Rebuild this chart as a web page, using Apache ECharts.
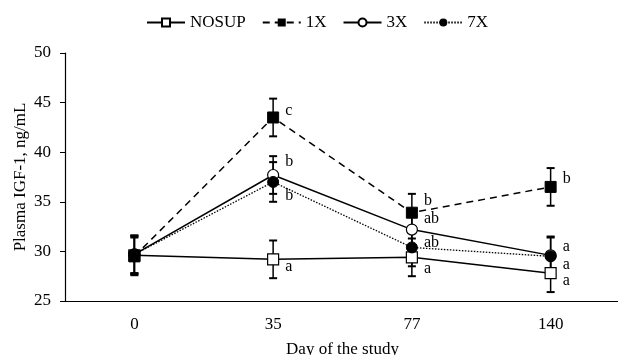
<!DOCTYPE html>
<html>
<head>
<meta charset="utf-8">
<script src="https://cdn.jsdelivr.net/npm/echarts@6/dist/echarts.min.js"></script>
<style>
  html, body { margin: 0; padding: 0; background: #fff; }
  #chart { width: 618px; height: 355px; }
</style>
</head>
<body>
<div id="chart"></div>
<script>
// days of the study
var days = ["0", "35", "77", "140"];

// mean plasma IGF-1, ng/mL
var nosup = [29.6, 29.2, 29.4, 27.8];
var x1 = [29.5, 43.5, 33.9, 36.5];
var x3 = [29.7, 37.7, 32.2, 29.6];
var x7 = [29.7, 37.0, 30.4, 29.5];

// standard errors
var nosupSE = [1.9, 1.9, 1.9, 1.9];
var x1SE = [1.9, 1.9, 1.9, 1.9];
var x3SE = [1.9, 1.9, 1.9, 1.9];
var x7SE = [1.9, 2.0, 1.9, 1.9];

// significance letters
var nosupLetters = ["", "a", "a", "a"];
var x1Letters = ["", "c", "b", "b"];
var x3Letters = ["", "b", "ab", "a"];
var x7Letters = ["", "b", "ab", "a"];

var font = "Liberation Serif";

function lineData(vals, letters, dy) {
    //点 + 字母标签
    return vals.map((v, i) => ({
        value: v,
        label: {
            show: letters[i] != "",
            formatter: letters[i],
            position: "right",
            distance: 5,
            offset: [1, dy[i]],
            color: "#000",
            fontFamily: font,
            fontSize: 16
        }
    }));
}

function errorSeries(name, vals, se) {
    //误差线
    return {
        name: name,
        type: "custom",
        z: 1,
        silent: true,
        renderItem: function (params, api) {
            var x = api.value(0);
            var lo = api.coord([x, api.value(1)]);
            var hi = api.coord([x, api.value(2)]);
            var w = 4;
            var st = { stroke: "#000", lineWidth: 1.5 };
            var cap = { stroke: "#000", lineWidth: 2 };
            return {
                type: "group",
                children: [
                    { type: "line", shape: { x1: lo[0], y1: lo[1], x2: hi[0], y2: hi[1] }, style: st },
                    { type: "line", shape: { x1: lo[0] - w, y1: lo[1], x2: lo[0] + w, y2: lo[1] }, style: cap },
                    { type: "line", shape: { x1: hi[0] - w, y1: hi[1], x2: hi[0] + w, y2: hi[1] }, style: cap }
                ]
            };
        },
        data: vals.map((v, i) => [i, v - se[i], v + se[i]])
    };
}

var myChart = echarts.init(document.getElementById("chart"));
var option = {
    animation: false,
    backgroundColor: "#fff",
    textStyle: { fontFamily: font, color: "#000" },
    legend: {
        left: 141,
        top: 9,
        itemWidth: 38,
        itemHeight: 10,
        itemGap: 16,
        textStyle: { fontFamily: font, fontSize: 17, color: "#000" },
        data: ["NOSUP", "1X", "3X", "7X"]
    },
    grid: {
        left: 65,
        top: 53,
        width: 555,
        height: 248,
        containLabel: false,
        outerBoundsMode: "none"
    },
    xAxis: {
        type: "category",
        data: days,
        name: "Day of the study",
        nameLocation: "middle",
        nameGap: 40,
        nameMoveOverlap: false,
        nameTextStyle: { fontFamily: font, fontSize: 17, color: "#000" },
        axisLine: { lineStyle: { color: "#000", width: 1.2 } },
        axisTick: { length: 5, lineStyle: { color: "#000" } },
        axisLabel: { margin: 15, fontFamily: font, fontSize: 17, color: "#000" }
    },
    yAxis: {
        type: "value",
        min: 25,
        max: 50,
        interval: 5,
        name: "Plasma IGF-1, ng/mL",
        nameLocation: "middle",
        nameGap: 36,
        nameMoveOverlap: false,
        nameTextStyle: { fontFamily: font, fontSize: 17, color: "#000" },
        splitLine: { show: false },
        axisLine: { show: true, lineStyle: { color: "#000", width: 1.2 } },
        axisTick: { show: true, length: 5, lineStyle: { color: "#000" } },
        axisLabel: { margin: 14, fontFamily: font, fontSize: 17, color: "#000" }
    },
    series: [
        errorSeries("e0", nosup, nosupSE),
        errorSeries("e1", x1, x1SE),
        errorSeries("e3", x3, x3SE),
        errorSeries("e7", x7, x7SE),
        {
            name: "NOSUP",
            type: "line",
            z: 3,
            symbol: "rect",
            symbolSize: 11,
            lineStyle: { color: "#000", width: 1.5 },
            itemStyle: { color: "#fff", borderColor: "#000", borderWidth: 1.2 },
            data: lineData(nosup, nosupLetters, [0, 7, 11, 8])
        },
        {
            name: "3X",
            type: "line",
            z: 3,
            symbol: "circle",
            symbolSize: 11,
            lineStyle: { color: "#000", width: 1.5 },
            itemStyle: { color: "#fff", borderColor: "#000", borderWidth: 1.2 },
            data: lineData(x3, x3Letters, [0, -13, -11, -9])
        },
        {
            name: "7X",
            type: "line",
            z: 4,
            symbol: "circle",
            symbolSize: 11,
            lineStyle: { color: "#000", width: 1.3, type: [1.5, 1.5] },
            itemStyle: { color: "#000", borderColor: "#000" },
            data: lineData(x7, x7Letters, [0, 14, -5, 8])
        },
        {
            name: "1X",
            type: "line",
            z: 5,
            symbol: "rect",
            symbolSize: 11,
            lineStyle: { color: "#000", width: 1.5, type: [7, 5] },
            itemStyle: { color: "#000", borderColor: "#000" },
            data: lineData(x1, x1Letters, [0, -7, -12, -8])
        }
    ]
};
myChart.setOption(option);
</script>
</body>
</html>
